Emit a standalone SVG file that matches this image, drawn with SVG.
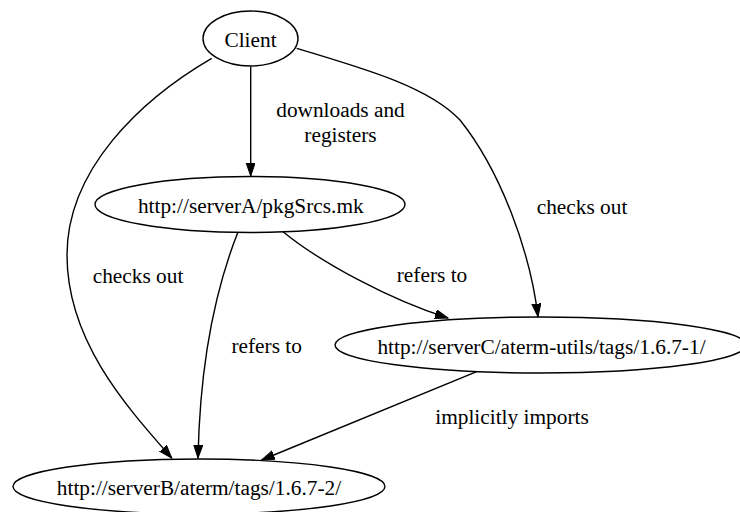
<svg xmlns="http://www.w3.org/2000/svg" width="740" height="512" viewBox="0 0 740 512">
<defs>
<marker id="arr" markerWidth="14" markerHeight="10" refX="13" refY="4.5" orient="auto" markerUnits="userSpaceOnUse">
<path d="M0,0 L13,4.5 L0,9 Z" fill="#000" stroke="#000" stroke-width="1"/>
</marker>
<style>
.node ellipse{fill:none;stroke:#000;stroke-width:1.4}
text{font-family:'Liberation Serif','Times New Roman',Times,serif;font-size:21.33px;fill:#000;text-anchor:middle}
.edges path{fill:none;stroke:#000;stroke-width:1.4;marker-end:url(#arr)}
</style>
</defs>
<rect width="740" height="512" fill="#fff"/>
<g class="edges" id="edges">
<path d="M250.7,66.7 L250.7,176"/>
<path d="M211.7,58.3 C140,100 67,170 67,255 C67,340 125,405 171.7,458"/>
<path d="M296.7,48.3 C370,70 430,88 460,120 C500,170 530,250 538,316.7"/>
<path d="M283,231.7 C320,262 390,300 448,318"/>
<path d="M238,232 C215,290 200,360 198,458"/>
<path d="M476.7,371.7 L261.7,460"/>
<text x="340.5" y="117">downloads and</text>
<text x="340.5" y="141.5">registers</text>
<text x="138" y="282.7">checks out</text>
<text x="582" y="213.5">checks out</text>
<text x="432" y="281.7">refers to</text>
<text x="266.7" y="353">refers to</text>
<text x="512" y="424">implicitly imports</text>
</g>
<g class="node" id="client"><ellipse cx="250.5" cy="38.5" rx="47.5" ry="27.5"/><text x="250.5" y="46.7">Client</text></g>
<g class="node" id="pkgsrcs"><ellipse cx="250" cy="204.5" rx="155" ry="28"/><text x="250.8" y="213">http://serverA/pkgSrcs.mk</text></g>
<g class="node" id="serverC"><ellipse cx="540.5" cy="345" rx="205.5" ry="28"/><text x="541.5" y="354">http://serverC/aterm-utils/tags/1.6.7-1/</text></g>
<g class="node" id="serverB"><ellipse cx="199" cy="486.5" rx="186" ry="27.5"/><text x="199" y="495">http://serverB/aterm/tags/1.6.7-2/</text></g>
</svg>
